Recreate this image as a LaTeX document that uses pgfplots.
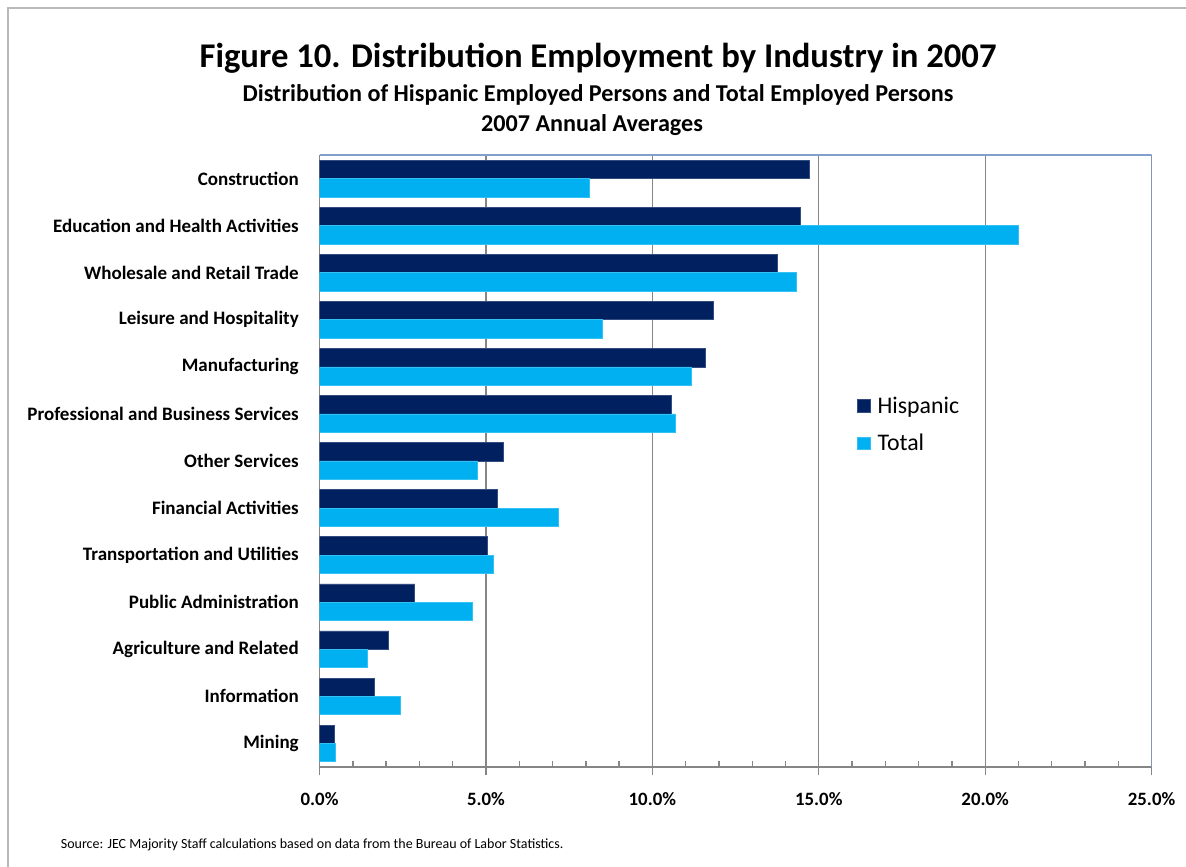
\documentclass[border=0pt]{standalone}
\usepackage{fontspec}
\setmainfont{Carlito}
\usepackage{pgfplots}
\pgfplotsset{compat=1.18}
\definecolor{hisp}{RGB}{0,32,96}
\definecolor{tot}{RGB}{0,176,240}
\definecolor{gridc}{RGB}{134,134,134}
\definecolor{framec}{RGB}{130,160,205}
\begin{document}
\begin{tikzpicture}[x=0.6pt,y=0.6pt]
\useasboundingbox (0,0) rectangle (1186,867);
\draw[color=gray!55, line width=1.2pt] (8,0) -- (8,859) -- (1186,859);
\node[font=\bfseries\fontsize{20.8}{24}\selectfont] at (598,809) {Figure 10. Distribution Employment by Industry in 2007};
\node[font=\bfseries\fontsize{14.5}{17}\selectfont] at (598,772) {Distribution of Hispanic Employed Persons and Total Employed Persons};
\node[font=\bfseries\fontsize{14.5}{17}\selectfont] at (592,742) {2007 Annual Averages};
\node[anchor=west, font=\fontsize{8.4}{10}\selectfont] at (55,22) {Source: JEC Majority Staff calculations based on data from the Bureau of Labor Statistics.};
\begin{axis}[at={(191.76pt,60pt)}, anchor=south west, scale only axis,
  width=499.2pt, height=367.2pt,
  xbar, bar width=11pt,
  xmin=0, xmax=25, ymin=-0.5, ymax=12.5,
  xtick={0,5,10,15,20,25}, minor x tick num=4,
  xticklabel={\pgfmathprintnumber[fixed,fixed zerofill,precision=1,assume math mode=true]{\tick}\%},
  xticklabel style={font=\bfseries\fontsize{11.3}{13}\selectfont, text=black, yshift=-7pt},
  ytick={0,...,12},
  yticklabels={Mining, Information, Agriculture and Related, Public Administration, Transportation and Utilities, Financial Activities, Other Services, Professional and Business Services, Manufacturing, Leisure and Hospitality, Wholesale and Retail Trade, Education and Health Activities, Construction},
  yticklabel style={font=\bfseries\fontsize{11.4}{13}\selectfont, text=black, xshift=-4pt},
  ytick style={draw=none},
  axis x line*=bottom, axis y line*=left,
  axis line style={gridc, line width=0.8pt},
  x tick style={gridc, line width=0.8pt},
  tick align=outside, major tick length=5pt, minor tick length=3.5pt,
  minor x tick style={yshift=3.5pt},
  xmajorgrids, major grid style={gridc, line width=0.8pt},
  legend style={at={(0.64,0.559)}, anchor=west, draw=none, fill=none,
    font=\fontsize{14.3}{16}\selectfont, row sep=7pt},
  legend cell align=left,
  legend image code/.code={\fill[#1] (0cm,-0.13cm) rectangle (0.27cm,0.14cm);},
]
\addplot[fill=hisp, draw=hisp!80!white, bar shift=5.5pt] coordinates {
(0.44,0) (1.64,1) (2.08,2) (2.86,3) (5.05,4) (5.33,5) (5.53,6) (10.57,7) (11.59,8) (11.82,9) (13.74,10) (14.44,11) (14.71,12)};
\addlegendentry{\hspace{2pt}Hispanic}
\addplot[fill=tot, draw=tot!80!white, bar shift=-5.5pt] coordinates {
(0.48,0) (2.44,1) (1.42,2) (4.59,3) (5.21,4) (7.17,5) (4.74,6) (10.69,7) (11.16,8) (8.50,9) (14.32,10) (21.00,11) (8.10,12)};
\addlegendentry{\hspace{2pt}Total}
\draw[framec, line width=0.8pt] (rel axis cs:0,1) -- (rel axis cs:1,1) -- (rel axis cs:1,0);
\end{axis}
\end{tikzpicture}
\end{document}
